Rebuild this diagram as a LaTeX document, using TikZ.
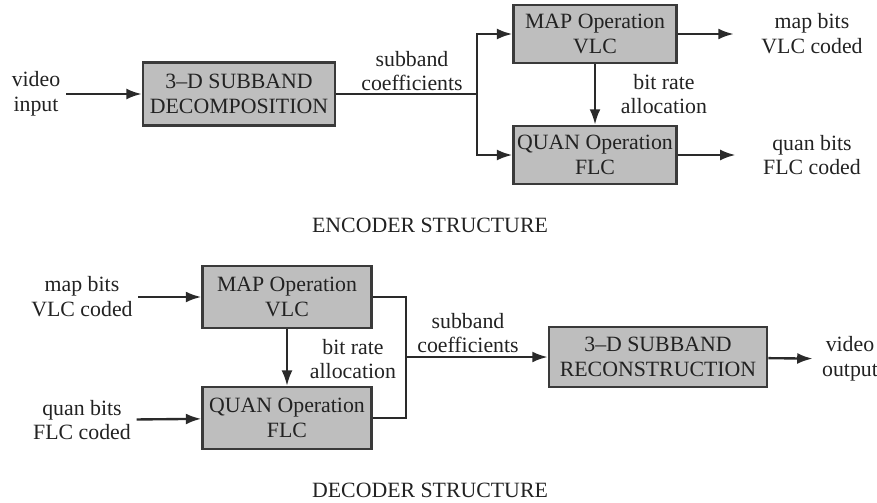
\documentclass[tikz,border=0pt]{standalone}
\usepackage{fontspec}
\setmainfont{Liberation Serif}
\usepackage{xcolor}
\definecolor{cFill}{HTML}{BEBEBE}
\definecolor{cEdge}{HTML}{3A3A3A}
\definecolor{cLine}{HTML}{2A2A2A}
\definecolor{cText}{HTML}{222222}
\usepackage{tikz}
\usetikzlibrary{positioning,arrows.meta}
\tikzset{
  node-box/.style={draw=cEdge,line width=1.3pt,fill=cFill,text=cText,
    align=center,inner sep=0pt,font=\fontsize{12}{13.7}\selectfont},
  node-label/.style={align=center,text=cText,inner sep=3pt,
    font=\fontsize{12}{13.7}\selectfont},
  node-title/.style={text=cText,anchor=base,inner sep=0pt,
    font=\fontsize{12}{13.7}\selectfont},
  arrow/.style={-{Latex[length=8.5pt,width=6pt]},line width=1.3pt,draw=cLine},
  line/.style={line width=1.3pt,draw=cLine},
}

\begin{document}
\begin{tikzpicture}[x=0.55pt,y=-0.55pt]
  \useasboundingbox (0,0) rectangle (877,502);
  % encoder
  \node[node-label] (vin) at (36,94) {video\\input};
  \node[node-box,minimum width=105.6pt,minimum height=34.6pt] (decomp) at (239,94)
    {3--D SUBBAND\\DECOMPOSITION};
  \coordinate (split) at (477,94);
  \node[node-box,minimum width=89.6pt,minimum height=32pt] (emap) at (595,34)
    {MAP Operation\\VLC};
  \node[node-box,minimum width=89.6pt,minimum height=32pt] (equan) at (595,155)
    {QUAN Operation\\FLC};
  \node[node-label] (ecoef) at (412,71) {subband\\coefficients};
  \node[node-label] (ebra) at (664,94) {bit rate\\allocation};
  \node[node-label] (emapout) at (812,34) {map bits\\VLC coded};
  \node[node-label] (equanout) at (812,155) {quan bits\\FLC coded};
  \node[node-title] (etitle) at (430,232) {ENCODER STRUCTURE};
  \draw[arrow] (vin) -- (decomp);
  \draw[line] (decomp) -- (split);
  \draw[arrow] (split) |- (emap);
  \draw[arrow] (split) |- (equan);
  \draw[arrow] (emap) -- (equan);
  \draw[arrow,shorten >=12pt] (emap) -- (emapout);
  \draw[arrow,shorten >=12pt] (equan) -- (equanout);
  % decoder
  \node[node-label] (dmapin) at (82,297) {map bits\\VLC coded};
  \node[node-label] (dquanin) at (82,420) {quan bits\\FLC coded};
  \node[node-box,minimum width=93pt,minimum height=34pt] (dmap) at (287,297)
    {MAP Operation\\VLC};
  \node[node-box,minimum width=93pt,minimum height=34pt] (dquan) at (287,418)
    {QUAN Operation\\FLC};
  \node[node-label] (dbra) at (353,359) {bit rate\\allocation};
  \coordinate (merge) at (406,357);
  \node[node-box,minimum width=120pt,minimum height=33pt] (recon) at (658,357)
    {3--D SUBBAND\\RECONSTRUCTION};
  \node[node-label] (dcoef) at (468,333) {subband\\coefficients};
  \node[node-label] (vout) at (850,359) {video\\output};
  \node[node-title] (dtitle) at (430,497) {DECODER STRUCTURE};
  \draw[arrow] (dmapin) -- (dmap);
  \draw[arrow] (dquanin) -- (dquan);
  \draw[arrow] (dmap) -- (dquan);
  \draw[line] (dmap) -| (merge);
  \draw[line] (dquan) -| (merge);
  \draw[arrow] (merge) -- (recon);
  \draw[arrow,shorten >=2pt] (recon) -- (vout);
\end{tikzpicture}
\end{document}
